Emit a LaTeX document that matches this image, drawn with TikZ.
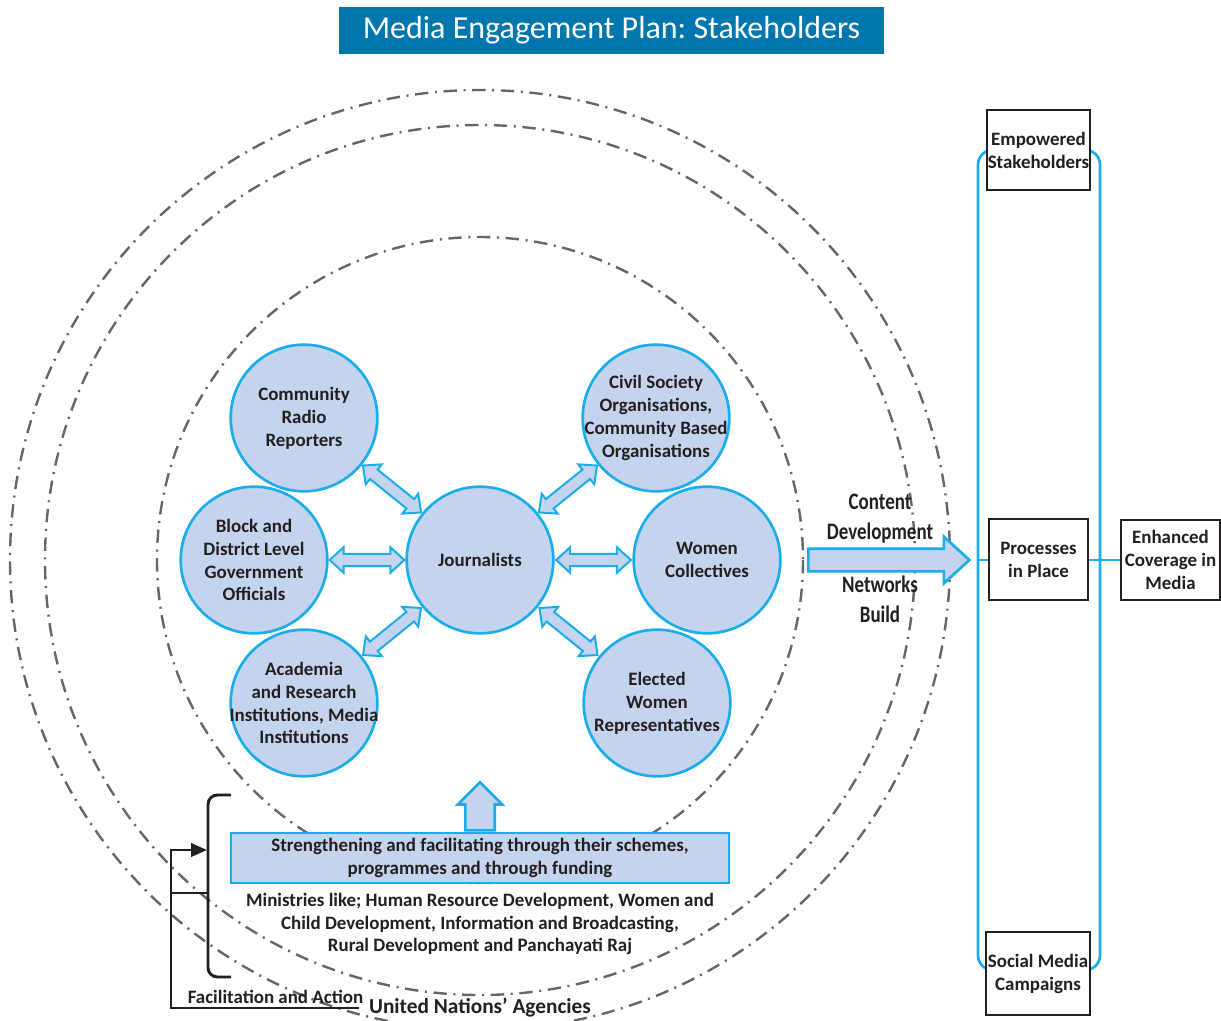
\documentclass[tikz,border=0pt]{standalone}
\usepackage{fontspec}
\setmainfont{Carlito}
\usepackage{graphicx}
\usetikzlibrary{shapes.arrows,arrows.meta}
\frenchspacing

\definecolor{stkfill}{HTML}{C5D4EE}
\definecolor{stkline}{HTML}{19ADEC}
\definecolor{ttlfill}{HTML}{0076AF}
\definecolor{inkdark}{HTML}{231F20}
\definecolor{ringgray}{HTML}{666666}

\newcommand{\bodyfont}{\fontsize{14.2}{17.2}\selectfont\bfseries}
\newcommand{\tallfont}{\fontsize{14.2}{18}\selectfont\bfseries}

\tikzset{
  stake/.style={circle, draw=stkline, line width=2pt, fill=stkfill,
    minimum size=110pt, inner sep=-30pt, align=center, text=inkdark, font=\bodyfont},
  outbox/.style={draw=inkdark, line width=2.2pt, fill=white, align=center,
    inner sep=0pt, text=inkdark, font=\bodyfont},
  dblarrow/.style={double arrow, draw=stkline, fill=stkfill, line width=1.5pt,
    minimum height=56pt, inner xsep=0pt, inner ysep=3.8pt,
    double arrow head extend=5pt, double arrow tip angle=85},
  fatarrow/.style={single arrow, draw=stkline, fill=stkfill, line width=2pt,
    inner xsep=0pt, anchor=tail},
  ring/.style={draw=ringgray, line width=1.8pt,
    dash pattern=on 10pt off 5pt on 1.5pt off 5pt},
  bracket/.style={draw=inkdark, line width=2.2pt},
}

\begin{document}
\begin{tikzpicture}[x=0.75pt, y=-0.75pt]
  \useasboundingbox (0,0) rectangle (1221,1021);

  % title
  \node[fill=ttlfill, text=white, minimum width=408.75pt, minimum height=35.25pt,
    font=\fontsize{24}{28}\selectfont] (title) at (611.5,30.5)
    {Media Engagement Plan: Stakeholders};

  % rings
  \coordinate (hub) at (480,560);
  \draw[ring] (hub) circle[radius=323];
  \draw[ring] (hub) circle[radius=435];
  \draw[ring] (hub) circle[radius=470];

  % stakeholders
  \node[stake] (jour) at (hub) {Journalists};
  \node[stake] (crr) at (304,418) {Community\\Radio\\Reporters};
  \node[stake] (bdo) at (254,560) {Block and\\District Level\\Government\\Officials};
  \node[stake] (aca) at (304,703) {Academia\\and Research\\Institutions, Media\\Institutions};
  \node[stake] (cso) at (656,418) {Civil Society\\Organisations,\\Community Based\\Organisations};
  \node[stake] (wc) at (707,560) {Women\\Collectives};
  \node[stake] (ewr) at (657,703) {Elected\\Women\\Representatives};

  \foreach \s in {crr,bdo,aca,cso,wc,ewr}
    \path (\s) -- (jour) node[midway, sloped, dblarrow] {};

  % outcomes
  \draw[stkline, line width=2pt, rounded corners=11pt] (978,150) rectangle (1100,970);
  \coordinate (railwest) at (978,560);
  \node[outbox, minimum width=74.25pt, minimum height=60pt] (ecm) at (1170.5,560)
    {Enhanced\\Coverage in\\Media};
  \draw[stkline, line width=2pt] (railwest) -- (ecm.west);
  \node[outbox, minimum width=74.25pt, minimum height=60.75pt] (proc) at (1038.5,559.5)
    {Processes\\in Place};
  \node[outbox, minimum width=77.25pt, minimum height=60pt] (emp) at (1038.5,150)
    {Empowered\\Stakeholders};
  \node[outbox, minimum width=78pt, minimum height=62.25pt] (smc) at (1038,973.5)
    {Social Media\\Campaigns};

  \node[fatarrow, minimum height=120.75pt, inner ysep=7.5pt,
    single arrow head extend=9pt, single arrow tip angle=85] (cdarrow) at (807,560) {};
  \node[text=inkdark] (cdlbl) at (880,518)
    {\scalebox{1}[1.25]{\tallfont\begin{tabular}{@{}c@{}}Content\\Development\end{tabular}}};
  \node[text=inkdark] (nblbl) at (880,601)
    {\scalebox{1}[1.25]{\tallfont\begin{tabular}{@{}c@{}}Networks\\Build\end{tabular}}};

  % support from ministries
  \node[draw=stkline, fill=stkfill, line width=2pt, minimum width=373.5pt,
    minimum height=37.5pt, inner sep=0pt, align=center, text=inkdark, font=\bodyfont]
    (strg) at (480,858)
    {Strengthening and facilitating through their schemes,\\programmes and through funding};
  \node[fatarrow, rotate=90, minimum height=36pt, inner ysep=10pt,
    single arrow head extend=5.6pt, single arrow tip angle=90] (uparr) at (strg.north) {};
  \node[font=\bodyfont, text=inkdark, align=center] (mins) at (480,924)
    {Ministries like; Human Resource Development, Women and\\
     Child Development, Information and Broadcasting,\\
     Rural Development and Panchayati Raj};

  % UN agencies
  \coordinate (brtop) at (231,795);
  \coordinate (brbot) at (231,977);
  \coordinate (brin) at (207,850);
  \coordinate (brmid) at (208,893);
  \coordinate (fork) at (171,893);
  \draw[bracket, rounded corners=7pt] (brtop) -- (208,795) -- (208,977) -- (brbot);
  \node[font=\bodyfont, text=inkdark] (fa) at (275.5,997) {Facilitation and Action};
  \node[font=\fontsize{16}{19}\selectfont\bfseries, text=inkdark] (un) at (480,1008)
    {United Nations' Agencies};
  \draw[bracket, -{Triangle[length=12pt,width=10pt]}] ([xshift=-4pt]un.west) -| (171,850) -- (brin);
  \draw[bracket] (fork) -- (brmid);
\end{tikzpicture}
\end{document}
